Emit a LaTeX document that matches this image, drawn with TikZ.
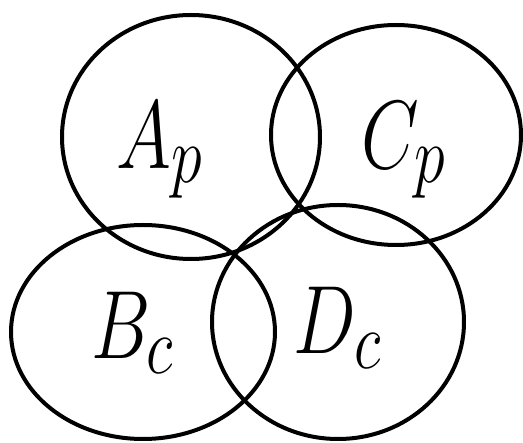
\documentclass[tikz,border=0pt]{standalone}
\begin{document}
\begin{tikzpicture}[x=1pt,y=-1pt,
  ring/.style={draw=black,line width=4pt},
  lbl/.style={inner sep=0pt}]
\useasboundingbox (0,0) rectangle (523,443);
\draw[ring] (191,137) ellipse [x radius=129, y radius=122];
\draw[ring] (396,135) ellipse [x radius=125, y radius=110];
\draw[ring] (143,332) ellipse [x radius=132, y radius=107];
\draw[ring] (338,322) ellipse [x radius=126, y radius=117];
\node[lbl] (ap) at (160,150) {\scalebox{3.0}[3.9]{\Huge$A_{p}$}};
\node[lbl] (cp) at (404,150) {\scalebox{3.0}[3.9]{\Huge$C_{p}$}};
\node[lbl] (bc) at (133,333) {\scalebox{3.0}[3.9]{\Huge$B_{c}$}};
\node[lbl] (dc) at (338,328) {\scalebox{3.0}[3.9]{\Huge$D_{c}$}};
\end{tikzpicture}
\end{document}
